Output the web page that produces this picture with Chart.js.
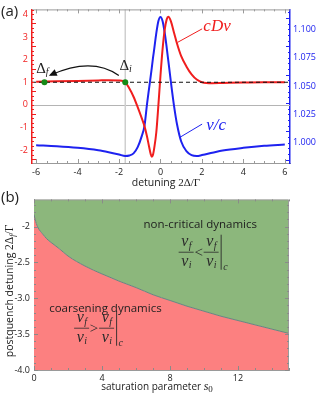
<!DOCTYPE html>
<html>
<head>
<meta charset="utf-8">
<script src="https://cdn.jsdelivr.net/npm/chart.js@4.4.0/dist/chart.umd.min.js"></script>
<style>
  html, body { margin: 0; padding: 0; background: #fff; }
  body { width: 317px; height: 399px; position: relative; overflow: hidden; }
  canvas { position: absolute; left: 0; }
  .tag { position: absolute; left: 1px; font: 15px "Open Sans", sans-serif; color: #222; z-index: 2; }
</style>
</head>
<body>
<canvas id="chartA" width="317" height="195" style="top:0"></canvas>
<canvas id="chartB" width="317" height="209" style="top:190px"></canvas>
<div class="tag" style="top:0px">(a)</div>
<div class="tag" style="top:186px">(b)</div>
<script>
// ---- panel (a) data ----
const detuning = [-6, -5, -4, -3, -2.5, -2, -1.7, -1.5, -1.3, -1.1, -0.9, -0.77, -0.65, -0.55, -0.47, -0.42, -0.36, -0.3, -0.2, -0.1, 0, 0.1, 0.2, 0.3, 0.38, 0.5, 0.65, 0.8, 1.0, 1.25, 1.5, 1.75, 2.0, 2.5, 3, 4, 5, 6];
const cdv = [1.02, 1.04, 1.06, 1.08, 1.09, 1.08, 1.0, 0.72, 0.36, -0.1, -0.6, -0.95, -1.4, -1.85, -2.18, -2.29, -2.2, -1.9, -1.2, 0.0, 1.3, 2.45, 3.3, 3.78, 3.89, 3.7, 3.2, 2.7, 2.15, 1.7, 1.35, 1.12, 1.0, 0.96, 0.97, 0.99, 1.0, 1.0];
const vOverC = [0.9977, 0.9968, 0.9954, 0.9932, 0.9915, 0.9895, 0.9882, 0.9886, 0.9905, 0.9960, 1.0060, 1.0150, 1.0340, 1.0480, 1.0590, 1.0660, 1.0750, 1.0830, 1.0970, 1.1075, 1.1110, 1.1075, 1.0975, 1.0840, 1.0720, 1.0540, 1.0330, 1.0160, 1.0010, 0.9925, 0.9890, 0.9882, 0.9890, 0.9910, 0.9930, 0.9954, 0.9972, 0.9983];
const dashX = [-6.2, 6.25];
const dashY = [1, 1];
const quenchX = [-5.6, -1.7];   // Δf, Δi
const quenchY = [1, 1];
const xTicksA = [-6, -4, -2, 0, 2, 4, 6];
const leftTicksA = [-2, -1, 0, 1, 2, 3, 4];
const rightTicksA = [1.000, 1.025, 1.050, 1.075, 1.100];

// ---- panel (b) data ----
const satParam = [0, 0.1, 0.25, 0.5, 0.75, 1, 1.5, 2, 3, 4, 5, 6, 7, 8, 9, 10, 11, 12, 13, 14, 15];
const boundary = [-1.83, -1.93, -2.02, -2.10, -2.17, -2.22, -2.31, -2.41, -2.55, -2.66, -2.76, -2.85, -2.95, -3.03, -3.11, -3.18, -3.25, -3.31, -3.37, -3.43, -3.49];
const xTicksB = [0, 4, 8, 12];
const yTicksB = [-4, -3.5, -3, -2.5, -2];
const yLabelsB = ['-4.0', '-3.5', '-3.0', '-2.5', '-2'];

const RED = '#f01e1e';
const BLUE = '#1e22f0';
const GREEN_FILL = '#8cb77c';
const PINK_FILL = '#fc8080';
const SANS = '"Open Sans", sans-serif';
const SERIF = '"Liberation Serif", serif';

const pts = (xs, ys) => xs.map((x, i) => ({ x: x, y: ys[i] }));

function drawRich(ctx, parts, cx, cy) {
    let w = 0;
    parts.forEach(p => { ctx.font = p.font; p.w = ctx.measureText(p.t).width; w += p.w; });
    let x = cx - w / 2;
    ctx.textBaseline = 'middle';
    ctx.textAlign = 'left';
    parts.forEach(p => {
        ctx.font = p.font;
        ctx.fillText(p.t, x, cy + (p.dy || 0));
        x += p.w;
    });
}

function innerTicks(ctx, scale, from, to, step, majorEvery, side, color) {
    const a = scale.chart.chartArea;
    ctx.strokeStyle = color;
    ctx.lineWidth = 1;
    ctx.beginPath();
    const n = Math.round((to - from) / step);
    for (let k = 0; k <= n; k++) {
        const v = from + k * step;
        const p = Math.round(scale.getPixelForValue(v)) + 0.5;
        const len = (k % majorEvery === 0) ? 4 : 2;
        if (side === 'bottom') { ctx.moveTo(p, a.bottom); ctx.lineTo(p, a.bottom - len); }
        if (side === 'top') { ctx.moveTo(p, a.top); ctx.lineTo(p, a.top + len); }
        if (side === 'left') { ctx.moveTo(a.left, p); ctx.lineTo(a.left + len, p); }
        if (side === 'right') { ctx.moveTo(a.right, p); ctx.lineTo(a.right - len, p); }
    }
    ctx.stroke();
}

function frac(ctx, cx, barY, sub1, sub2) {
    [[sub1, -6, -3], [sub2, 14.5, 16.5]].forEach(([s, base, subBase]) => {
        ctx.font = 'italic 16px ' + SERIF;
        const vw = ctx.measureText('v').width;
        ctx.font = 'italic 10px ' + SERIF;
        const sw = ctx.measureText(s).width;
        const left = cx - (vw + sw) / 2;
        ctx.textBaseline = 'alphabetic';
        ctx.textAlign = 'left';
        ctx.font = 'italic 16px ' + SERIF;
        ctx.fillText('v', left, barY + base);
        ctx.font = 'italic 10px ' + SERIF;
        ctx.fillText(s, left + vw + 0.5, barY + subBase);
    });
    ctx.lineWidth = 0.8;
    ctx.beginPath();
    ctx.moveTo(cx - 7.5, barY + 0.5);
    ctx.lineTo(cx + 7.5, barY + 0.5);
    ctx.stroke();
}

function formula(ctx, x0, barY, op) {
    ctx.fillStyle = '#2a2a2a';
    ctx.strokeStyle = '#2a2a2a';
    frac(ctx, x0, barY, 'f', 'i');
    ctx.font = '15px ' + SERIF;
    ctx.textAlign = 'center';
    ctx.textBaseline = 'middle';
    ctx.fillText(op, x0 + 12.5, barY + 1);
    frac(ctx, x0 + 25, barY, 'f', 'i');
    ctx.lineWidth = 0.9;
    ctx.beginPath();
    ctx.moveTo(x0 + 35, barY - 17);
    ctx.lineTo(x0 + 35, barY + 18);
    ctx.stroke();
    ctx.font = 'italic 10px ' + SERIF;
    ctx.textAlign = 'left';
    ctx.textBaseline = 'alphabetic';
    ctx.fillText('c', x0 + 37, barY + 18);
}

const decorA = {
    id: 'decorA',
    beforeDatasetsDraw(chart) {
        const { ctx, chartArea: a, scales: { x, y } } = chart;
        ctx.save();
        ctx.strokeStyle = '#b4b4b4';
        ctx.lineWidth = 1;
        ctx.beginPath();
        const y0 = Math.round(y.getPixelForValue(0)) + 0.5;
        ctx.moveTo(a.left, y0); ctx.lineTo(a.right, y0);
        ctx.stroke();
        ctx.strokeStyle = '#cfcfcf';
        ctx.lineWidth = 1.5;
        ctx.beginPath();
        const xi = x.getPixelForValue(quenchX[1]);
        ctx.moveTo(xi, a.top); ctx.lineTo(xi, a.bottom);
        ctx.stroke();
        ctx.restore();
    },
    afterDraw(chart) {
        const { ctx, chartArea: a, scales: { x, y, y1 } } = chart;
        ctx.save();
        // top border
        ctx.strokeStyle = '#9a9a9a';
        ctx.lineWidth = 1;
        ctx.beginPath();
        ctx.moveTo(a.left, a.top + 0.5); ctx.lineTo(a.right, a.top + 0.5);
        ctx.stroke();
        innerTicks(ctx, x, -6, 6, 0.5, 4, 'bottom', '#9a9a9a');
        innerTicks(ctx, x, -6, 6, 0.5, 4, 'top', '#9a9a9a');
        innerTicks(ctx, y, -2.4, 4.2, 0.2, 5, 'left', RED);
        innerTicks(ctx, y1, 0.985, 1.115, 0.005, 5, 'right', BLUE);

        // curve labels with leader lines
        const px = (vx, vy) => [x.getPixelForValue(vx), y.getPixelForValue(vy)];
        ctx.lineWidth = 1;
        ctx.strokeStyle = RED;
        ctx.beginPath();
        let p = px(2.01, 3.36); ctx.moveTo(p[0], p[1]);
        p = px(0.82, 2.76); ctx.lineTo(p[0], p[1]);
        ctx.stroke();
        ctx.fillStyle = RED;
        p = px(2.73, 3.45);
        drawRich(ctx, [{ t: 'cDv', font: 'italic 17px ' + SERIF }], p[0], p[1]);

        ctx.strokeStyle = BLUE;
        ctx.beginPath();
        p = px(2.01, -0.85); ctx.moveTo(p[0], p[1]);
        p = px(0.91, -1.45); ctx.lineTo(p[0], p[1]);
        ctx.stroke();
        ctx.fillStyle = BLUE;
        p = px(2.69, -0.93);
        drawRich(ctx, [{ t: 'v/c', font: 'italic 17px ' + SERIF }], p[0], p[1]);

        // Δf, Δi labels
        ctx.fillStyle = '#222';
        p = px(-5.7, 1.6);
        drawRich(ctx, [{ t: 'Δ', font: '15px ' + SERIF }, { t: 'f', font: 'italic 10px ' + SERIF, dy: 4 }], p[0], p[1]);
        p = px(-1.68, 1.73);
        drawRich(ctx, [{ t: 'Δ', font: '15px ' + SERIF }, { t: 'i', font: 'italic 10px ' + SERIF, dy: 4 }], p[0], p[1]);

        // quench arrow from Δi to Δf
        const s = px(-2.01, 1.30), c = px(-3.31, 2.14), e = px(-5.3, 1.32);
        ctx.strokeStyle = '#111';
        ctx.lineWidth = 1.3;
        ctx.beginPath();
        ctx.moveTo(s[0], s[1]);
        ctx.quadraticCurveTo(c[0], c[1], e[0], e[1]);
        ctx.stroke();
        const ang = Math.atan2(e[1] - c[1], e[0] - c[0]);
        ctx.fillStyle = '#111';
        ctx.beginPath();
        ctx.moveTo(e[0] + 2 * Math.cos(ang), e[1] + 2 * Math.sin(ang));
        ctx.lineTo(e[0] - 6 * Math.cos(ang) + 3.5 * Math.sin(ang), e[1] - 6 * Math.sin(ang) - 3.5 * Math.cos(ang));
        ctx.lineTo(e[0] - 6 * Math.cos(ang) - 3.5 * Math.sin(ang), e[1] - 6 * Math.sin(ang) + 3.5 * Math.cos(ang));
        ctx.closePath();
        ctx.fill();

        // x title
        ctx.fillStyle = '#222';
        drawRich(ctx, [
            { t: 'detuning ', font: '10.5px ' + SANS },
            { t: '2Δ/Γ', font: '11px ' + SERIF }
        ], 166, 183);
        ctx.restore();
    }
};

const tickFont = { family: SANS, size: 9 };

new Chart(document.getElementById('chartA'), {
    type: 'line',
    data: {
        datasets: [
            { data: pts(quenchX, quenchY), showLine: false, pointRadius: 3, pointBackgroundColor: '#168a16', pointBorderWidth: 0, yAxisID: 'y', order: 0 },
            { data: pts(dashX, dashY), borderColor: '#111', borderDash: [4, 3], borderWidth: 1.2, pointRadius: 0, yAxisID: 'y', order: 1 },
            { data: pts(detuning, cdv), borderColor: RED, borderWidth: 2, pointRadius: 0, cubicInterpolationMode: 'monotone', yAxisID: 'y', order: 2 },
            { data: pts(detuning, vOverC), borderColor: BLUE, borderWidth: 2, pointRadius: 0, cubicInterpolationMode: 'monotone', yAxisID: 'y1', order: 3 }
        ]
    },
    options: {
        responsive: false,
        animation: false,
        devicePixelRatio: 1,
        layout: { padding: { top: 5, left: 0, right: 0, bottom: 0 } },
        plugins: { legend: { display: false }, tooltip: { enabled: false } },
        scales: {
            x: {
                type: 'linear', min: -6.2, max: 6.25,
                afterBuildTicks: s => { s.ticks = xTicksA.map(v => ({ value: v })); },
                afterFit: s => { s.height = 32; },
                grid: { display: false, drawTicks: false },
                border: { color: '#9a9a9a', width: 1 },
                ticks: { font: tickFont, color: '#222', padding: 4, maxRotation: 0 }
            },
            y: {
                position: 'left', min: -2.57, max: 4.22,
                afterBuildTicks: s => { s.ticks = leftTicksA.map(v => ({ value: v })); },
                afterFit: s => { s.width = 32; },
                grid: { display: false, drawTicks: false },
                border: { color: RED, width: 1.5 },
                ticks: { font: tickFont, color: RED, padding: 4 }
            },
            y1: {
                position: 'right', min: 0.982, max: 1.1177,
                afterBuildTicks: s => { s.ticks = rightTicksA.map(v => ({ value: v })); },
                afterFit: s => { s.width = 27; },
                grid: { display: false, drawTicks: false },
                border: { color: BLUE, width: 1.5 },
                ticks: { font: tickFont, color: BLUE, padding: 3, callback: v => v.toFixed(3) }
            }
        }
    },
    plugins: [decorA]
});

const decorB = {
    id: 'decorB',
    afterDraw(chart) {
        const { ctx, chartArea: a, scales: { x, y } } = chart;
        ctx.save();
        ctx.strokeStyle = '#9a9a9a';
        ctx.lineWidth = 1;
        ctx.beginPath();
        ctx.moveTo(a.left, a.top + 0.5); ctx.lineTo(a.right - 0.5, a.top + 0.5);
        ctx.lineTo(a.right - 0.5, a.bottom);
        ctx.stroke();
        innerTicks(ctx, x, 0, 15, 1, 4, 'bottom', '#8a8a8a');
        innerTicks(ctx, x, 0, 15, 1, 4, 'top', '#8a8a8a');
        innerTicks(ctx, y, -4, -1.7, 0.1, 5, 'left', '#8a8a8a');
        innerTicks(ctx, y, -4, -1.7, 0.1, 5, 'right', '#8a8a8a');

        // region texts
        ctx.fillStyle = '#1e1e1e';
        drawRich(ctx, [{ t: 'non-critical dynamics', font: '11.5px ' + SANS }],
            x.getPixelForValue(9.78), y.getPixelForValue(-1.98));
        drawRich(ctx, [{ t: 'coarsening dynamics', font: '11.5px ' + SANS }],
            x.getPixelForValue(4.2), y.getPixelForValue(-3.14));
        formula(ctx, x.getPixelForValue(8.95), y.getPixelForValue(-2.35), '<');
        formula(ctx, x.getPixelForValue(2.8), y.getPixelForValue(-3.41), '>');

        // axis titles
        ctx.fillStyle = '#222';
        drawRich(ctx, [
            { t: 'saturation parameter ', font: '10px ' + SANS },
            { t: 's', font: 'italic 12px ' + SERIF },
            { t: '0', font: '9px ' + SERIF, dy: 3 }
        ], 157, 197);
        ctx.translate(10, 101);
        ctx.rotate(-Math.PI / 2);
        drawRich(ctx, [
            { t: 'postquench detuning ', font: '10.5px ' + SANS },
            { t: '2Δ', font: '11.5px ' + SERIF },
            { t: 'f', font: 'italic 8px ' + SERIF, dy: 3 },
            { t: '/Γ', font: '11.5px ' + SERIF }
        ], 0, 0);
        ctx.restore();
    }
};

new Chart(document.getElementById('chartB'), {
    type: 'line',
    data: {
        datasets: [
            { data: pts(satParam, boundary), fill: 'end', backgroundColor: GREEN_FILL, borderColor: '#6c8282', borderWidth: 1, pointRadius: 0, cubicInterpolationMode: 'monotone' },
            { data: pts(satParam, boundary), fill: 'start', backgroundColor: PINK_FILL, borderWidth: 0, pointRadius: 0, cubicInterpolationMode: 'monotone' }
        ]
    },
    options: {
        responsive: false,
        animation: false,
        devicePixelRatio: 1,
        layout: { padding: { top: 8, left: 0, right: 28, bottom: 0 } },
        plugins: { legend: { display: false }, tooltip: { enabled: false } },
        scales: {
            x: {
                type: 'linear', min: 0, max: 15,
                afterBuildTicks: s => { s.ticks = xTicksB.map(v => ({ value: v })); },
                afterFit: s => { s.height = 29; },
                grid: { display: false, drawTicks: false },
                border: { color: '#9a9a9a', width: 1 },
                ticks: { font: tickFont, color: '#222', padding: 3, maxRotation: 0 }
            },
            y: {
                min: -4, max: -1.62,
                afterBuildTicks: s => { s.ticks = yTicksB.map(v => ({ value: v })); },
                afterFit: s => { s.width = 34; },
                grid: { display: false, drawTicks: false },
                border: { color: '#9a9a9a', width: 1 },
                ticks: { font: tickFont, color: '#222', padding: 4, callback: v => yLabelsB[yTicksB.indexOf(v)] }
            }
        }
    },
    plugins: [decorB]
});
</script>
</body>
</html>
